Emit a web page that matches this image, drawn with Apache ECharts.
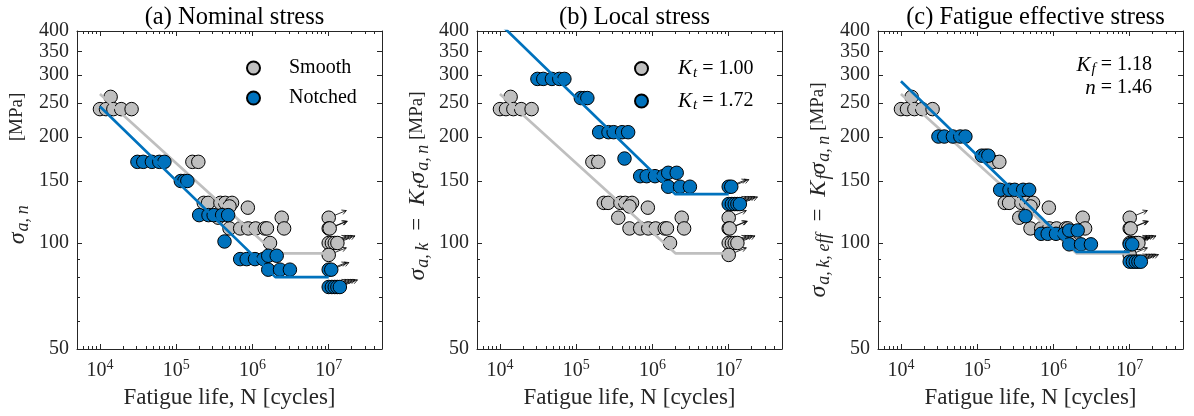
<!DOCTYPE html>
<html>
<head>
<meta charset="utf-8">
<script src="https://cdn.jsdelivr.net/npm/echarts@6/dist/echarts.min.js"></script>
<style>
  html, body { margin: 0; padding: 0; background: #fff; }
  #chart { width: 1194px; height: 416px; }
</style>
</head>
<body>
<div id="chart"></div>
<script>
// Fatigue test results: nominal stress amplitude [MPa] against cycles to failure.
// Smooth specimens (failures)
const smoothN = [1.0e4, 1.2e4, 1.38e4, 1.5e4, 1.9e4, 2.6e4, 1.63e5, 1.95e5,
                 2.3e5, 2.62e5, 3.8e5, 4.4e5, 5.4e5, 5.0e5, 8.7e5, 3.56e5,
                 5.0e5, 6.9e5, 8.8e5, 1.1e6, 1.45e6, 1.55e6, 1.7e6, 2.42e6, 2.6e6];
const smoothS = [240, 240, 260, 240, 240, 240, 170, 170,
                 130, 130, 130, 130, 130, 127, 126, 118,
                 110, 110, 110, 110, 110, 110, 100, 118, 110];
// Smooth specimens (run-outs)
const smoothRunN = [1.0e7, 1.0e7, 1.03e7, 1.0e7, 1.1e7, 1.2e7, 1.3e7, 1.0e7];
const smoothRunS = [118, 110, 110, 100, 100, 100, 100, 92.5];
// Notched specimens (failures), nominal stress
const notchedN = [3.1e4, 3.7e4, 4.8e4, 6.0e4, 7.0e4, 1.15e5, 1.28e5, 1.4e5,
                  2.0e5, 2.65e5, 3.1e5, 4.0e5, 4.8e5, 4.3e5, 6.9e5, 8.4e5,
                  1.08e6, 1.39e6, 1.61e6, 2.08e6, 1.61e6, 2.3e6, 3.1e6];
const notchedS = [170, 170, 170, 170, 170, 150, 150, 150,
                  120, 120, 120, 120, 120, 101, 90, 90,
                  90, 90, 92, 92, 84, 84, 84];
// Notched specimens (run-outs)
const notchedRunN = [1.0e7, 1.08e7, 1.0e7, 1.1e7, 1.2e7, 1.3e7, 1.4e7];
const notchedRunS = [84, 84, 75, 75, 75, 75, 75];

// Fitted S-N curves (knee at 2e6 cycles)
const curveN = [1e4, 2e6, 1e7];
const smoothCurveS = [265, 93.5, 93.5];
const notchedCurveS = [244, 80, 80];

// Stress concentration / fatigue notch factors
const Kt = 1.72;
const Kf = 1.18;
const nExp = 1.46;

const panelTitles = ['(a) Nominal stress', '(b) Local stress', '(c) Fatigue effective stress'];
const yTickLabels = [50, 100, 150, 200, 250, 300, 350, 400];
const yMinorTicks = [60, 70, 80, 90];
const xTickLabels = [1e4, 1e5, 1e6, 1e7];
const xMinorTicks = [6e3, 7e3, 8e3, 9e3,
                     2e4, 3e4, 4e4, 5e4, 6e4, 7e4, 8e4, 9e4,
                     2e5, 3e5, 4e5, 5e5, 6e5, 7e5, 8e5, 9e5,
                     2e6, 3e6, 4e6, 5e6, 6e6, 7e6, 8e6, 9e6,
                     2e7, 3e7, 4e7];

const FONT = 'Liberation Serif';
const INK = '#262626';
const BLUE = '#0072BD';
const GREY = '#BFBFBF';

const gridLefts = [77, 477, 878];
const gridWidth = 305, gridTop = 31, gridHeight = 318;
const factors = [1, Kt, Kf];

const THIN = '\u2009';
const mathRich = {
  i: { fontFamily: FONT, fontStyle: 'italic', fontSize: 24, color: INK },
  s: { fontFamily: FONT, fontStyle: 'italic', fontSize: 18, color: INK, padding: [11, 0, 0, 1] },
  e: { fontFamily: FONT, fontSize: 23, color: INK, padding: [0, 12, 0, 12] },
  u: { fontFamily: FONT, fontSize: 19, color: INK },
  r: { fontFamily: FONT, fontSize: 19, color: INK },
  g: { width: 64 }
};
const yNames = [
  '{i|σ}{s|a,' + THIN + 'n}{g|}{u|[MPa]}',
  '{i|σ}{s|a,' + THIN + 'k}{e|=}{i|K}{s|t}{i|σ}{s|a,' + THIN + 'n}{r| }{u|[MPa]}',
  '{i|σ}{s|a,' + THIN + 'k,' + THIN + 'eff}{e|=}{i|K}{s|f}{i|σ}{s|a,' + THIN + 'n}{r| }{u|[MPa]}'
];
// shift along the label direction so that each label sits where it belongs
const yNamePadding = [[0, 0, 0, 43], [0, 0, 0, 8], [0, 0, 0, 0]];

const lineStyle = { color: INK, width: 1 };

function xAxesFor(g) {
  const base = {
    type: 'log', logBase: 10, min: 5000, max: 5e7, gridIndex: g,
    splitLine: { show: false }, splitArea: { show: false }
  };
  return [
    Object.assign({}, base, {
      position: 'bottom',
      axisLine: { show: true, onZero: false, lineStyle },
      axisTick: { show: true, inside: true, length: 5, customValues: xTickLabels, lineStyle },
      axisLabel: {
        show: true, customValues: xTickLabels, margin: 9,
        formatter: v => '{b|10}{p|' + Math.round(Math.log10(v)) + '}',
        rich: {
          b: { fontFamily: FONT, fontSize: 20, color: INK },
          p: { fontFamily: FONT, fontSize: 14, color: INK, padding: [0, 0, 11, 0] }
        }
      },
      name: 'Fatigue life, N [cycles]', nameLocation: 'middle', nameGap: 37,
      nameTextStyle: { fontFamily: FONT, fontSize: 23, color: INK }
    }),
    Object.assign({}, base, {
      position: 'bottom',
      axisLine: { show: false, onZero: false },
      axisTick: { show: true, inside: true, length: 3, customValues: xMinorTicks, lineStyle },
      axisLabel: { show: false }
    }),
    Object.assign({}, base, {
      position: 'top',
      axisLine: { show: true, onZero: false, lineStyle },
      axisTick: { show: true, inside: true, length: 5, customValues: xTickLabels, lineStyle },
      axisLabel: { show: false }
    }),
    Object.assign({}, base, {
      position: 'top',
      axisLine: { show: false, onZero: false },
      axisTick: { show: true, inside: true, length: 3, customValues: xMinorTicks, lineStyle },
      axisLabel: { show: false }
    })
  ];
}

function yAxesFor(g) {
  const base = {
    type: 'log', logBase: 10, min: 50, max: 400, gridIndex: g,
    splitLine: { show: false }, splitArea: { show: false }
  };
  return [
    Object.assign({}, base, {
      position: 'left',
      axisLine: { show: true, onZero: false, lineStyle },
      axisTick: { show: true, inside: true, length: 5, customValues: yTickLabels, lineStyle },
      axisLabel: {
        show: true, customValues: yTickLabels, margin: 8,
        fontFamily: FONT, fontSize: 20, color: INK
      },
      name: yNames[g], nameLocation: 'middle', nameRotate: 90, nameGap: 45,
      nameTextStyle: { fontFamily: FONT, fontSize: 22, color: INK, rich: mathRich, padding: yNamePadding[g] }
    }),
    Object.assign({}, base, {
      position: 'left',
      axisLine: { show: false, onZero: false },
      axisTick: { show: true, inside: true, length: 3, customValues: yMinorTicks, lineStyle },
      axisLabel: { show: false }
    }),
    Object.assign({}, base, {
      position: 'right',
      axisLine: { show: true, onZero: false, lineStyle },
      axisTick: { show: true, inside: true, length: 5, customValues: yTickLabels, lineStyle },
      axisLabel: { show: false }
    }),
    Object.assign({}, base, {
      position: 'right',
      axisLine: { show: false, onZero: false },
      axisTick: { show: true, inside: true, length: 3, customValues: yMinorTicks, lineStyle },
      axisLabel: { show: false }
    })
  ];
}

// Run-out marker: short arrow pointing up and to the right
function renderRunout(params, api) {
  const p = api.coord([api.value(0), api.value(1)]);
  const L = 19, ang = 22 * Math.PI / 180;
  const tx = p[0] + L * Math.cos(ang), ty = p[1] - L * Math.sin(ang);
  const h = 5, spread = 28 * Math.PI / 180, back = ang + Math.PI;
  const h1 = [tx + h * Math.cos(back - spread), ty - h * Math.sin(back - spread)];
  const h2 = [tx + h * Math.cos(back + spread), ty - h * Math.sin(back + spread)];
  const st = { stroke: '#000', lineWidth: 0.8, fill: null };
  return {
    type: 'group',
    children: [
      { type: 'line', shape: { x1: p[0], y1: p[1], x2: tx, y2: ty }, style: st },
      { type: 'polyline', shape: { points: [h1, [tx, ty], h2] }, style: st }
    ]
  };
}

const pairs = (xs, ys, f) => xs.map((x, i) => [x, ys[i] * f]);

const seriesNames = [
  ['Smooth', 'Notched'],
  ['Kt = 1.00', 'Kt = 1.72'],
  ['Smooth (eff.)', 'Notched (eff.)']
];

const series = [];
for (let g = 0; g < 3; g++) {
  const f = factors[g];
  const ax = { xAxisIndex: g * 4, yAxisIndex: g * 4 };
  series.push(Object.assign({
    name: 'runout-s-' + g, type: 'custom', renderItem: renderRunout,
    data: pairs(smoothRunN, smoothRunS, 1), z: 1, silent: true
  }, ax));
  series.push(Object.assign({
    name: 'runout-n-' + g, type: 'custom', renderItem: renderRunout,
    data: pairs(notchedRunN, notchedRunS, f), z: 1, silent: true
  }, ax));
  series.push(Object.assign({
    name: seriesNames[g][0], type: 'scatter', symbol: 'circle', symbolSize: 13.5,
    itemStyle: { color: GREY, borderColor: '#000', borderWidth: 1, opacity: 1 },
    data: pairs(smoothN, smoothS, 1).concat(pairs(smoothRunN, smoothRunS, 1)), z: 2
  }, ax));
  series.push(Object.assign({
    name: 'curve-s-' + g, type: 'line', symbol: 'none',
    lineStyle: { color: GREY, width: 2.7 }, data: pairs(curveN, smoothCurveS, 1), z: 3
  }, ax));
  series.push(Object.assign({
    name: seriesNames[g][1], type: 'scatter', symbol: 'circle', symbolSize: 13.5,
    itemStyle: { color: BLUE, borderColor: '#000', borderWidth: 1, opacity: 1 },
    data: pairs(notchedN, notchedS, f).concat(pairs(notchedRunN, notchedRunS, f)), z: 4
  }, ax));
  series.push(Object.assign({
    name: 'curve-n-' + g, type: 'line', symbol: 'none', clip: true,
    lineStyle: { color: BLUE, width: 2.7 }, data: pairs(curveN, notchedCurveS, f), z: 5
  }, ax));
}

const legendRich = {
  i: { fontFamily: FONT, fontStyle: 'italic', fontSize: 21, color: '#000' },
  s: { fontFamily: FONT, fontStyle: 'italic', fontSize: 15, color: '#000', padding: [9, 0, 0, 1] },
  r: { fontFamily: FONT, fontSize: 20, color: '#000' }
};

const option = {
  animation: false,
  backgroundColor: '#fff',
  title: panelTitles.map((t, i) => ({
    text: t, left: gridLefts[i] + gridWidth / 2, top: 0, textAlign: 'center',
    textStyle: { fontFamily: FONT, fontWeight: 'normal', fontSize: 24.5, color: '#000' }
  })),
  grid: gridLefts.map(l => ({ left: l, top: gridTop, width: gridWidth, height: gridHeight })),
  xAxis: [].concat(xAxesFor(0), xAxesFor(1), xAxesFor(2)),
  yAxis: [].concat(yAxesFor(0), yAxesFor(1), yAxesFor(2)),
  legend: [
    {
      data: seriesNames[0], orient: 'vertical', left: 246, top: 58, padding: 0,
      itemWidth: 13, itemHeight: 13, itemGap: 10, selectedMode: false,
      textStyle: { fontFamily: FONT, fontSize: 20, color: '#000', padding: [0, 0, 0, 24] }
    },
    {
      data: seriesNames[1], orient: 'vertical', left: 634, top: 58, padding: 0,
      itemWidth: 13, itemHeight: 13, itemGap: 10, selectedMode: false,
      formatter: name => name === 'Kt = 1.00' ? '{i|K}{s|t}{r| = 1.00}' : '{i|K}{s|t}{r| = 1.72}',
      textStyle: { fontFamily: FONT, fontSize: 20, color: '#000', padding: [0, 0, 0, 25], rich: legendRich }
    }
  ],
  graphic: [
    {
      type: 'text', x: 1152, y: 65,
      style: { text: '{i|K}{s|f}{r| = ' + Kf.toFixed(2) + '}', rich: legendRich, align: 'right', verticalAlign: 'middle' }
    },
    {
      type: 'text', x: 1152, y: 88,
      style: { text: '{i|n}{r| = ' + nExp.toFixed(2) + '}', rich: legendRich, align: 'right', verticalAlign: 'middle' }
    }
  ],
  series: series
};

const chart = echarts.init(document.getElementById('chart'), null, { renderer: 'canvas' });
chart.setOption(option);
</script>
</body>
</html>
